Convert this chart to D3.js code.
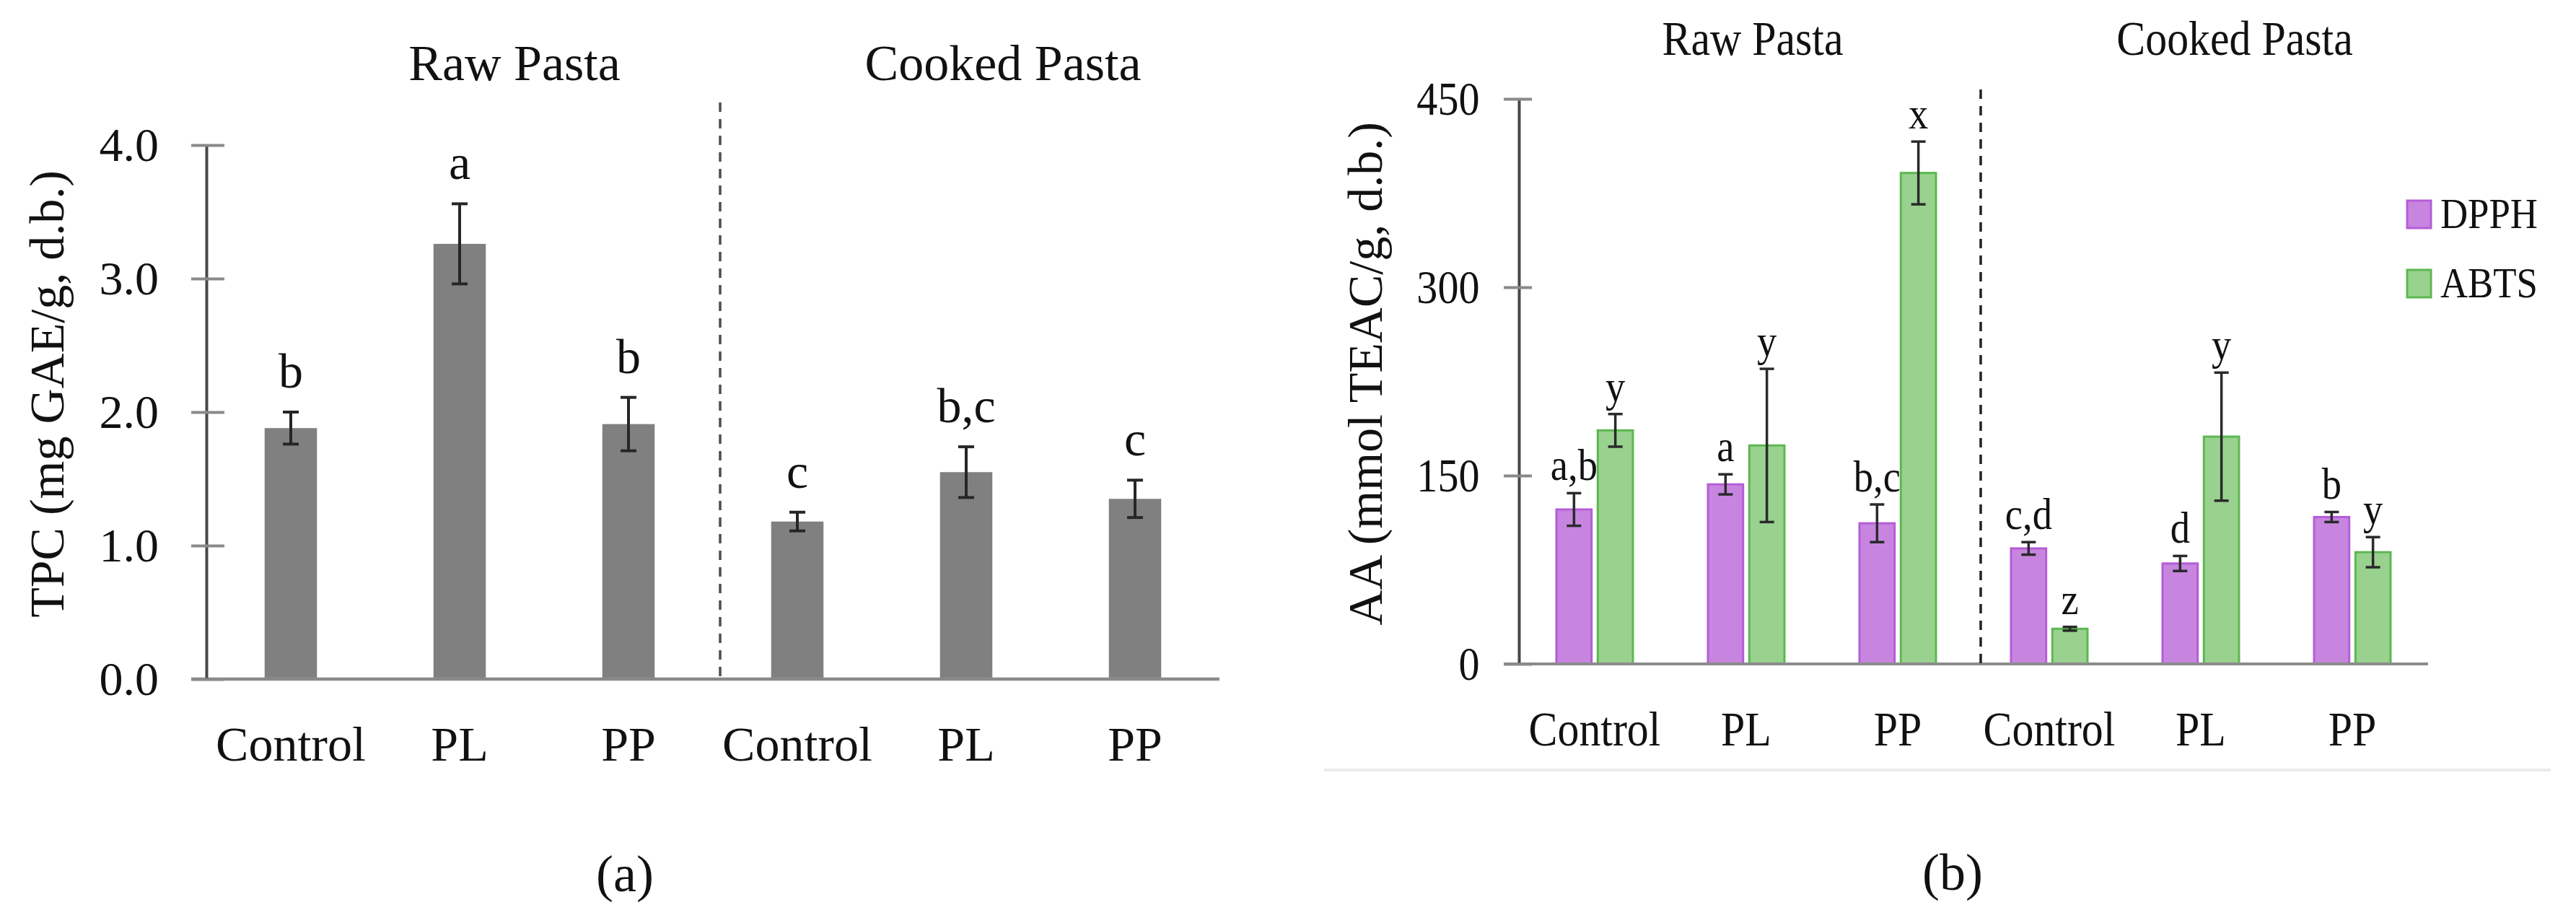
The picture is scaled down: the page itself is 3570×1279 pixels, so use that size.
<!DOCTYPE html>
<html>
<head>
<meta charset="utf-8">
<script src="https://cdn.jsdelivr.net/npm/d3@7"></script>
<style>
  body { margin: 0; background: #fff; }
  svg { display: block; }
</style>
</head>
<body>
<div id="chart"></div>
<script>
// data
var samples = ["Control", "PL", "PP"];
var groupNames = ["Raw Pasta", "Cooked Pasta"];
var keys = ["raw-Control", "raw-PL", "raw-PP", "cooked-Control", "cooked-PL", "cooked-PP"];

var tpcMean = [1.88, 3.26, 1.91, 1.18, 1.55, 1.35];
var tpcSd = [0.12, 0.30, 0.20, 0.07, 0.19, 0.14];
var tpcLetters = ["b", "a", "b", "c", "b,c", "c"];
var tpcTicks = [0, 1, 2, 3, 4];

var series = ["DPPH", "ABTS"];
var dpphMean = [123, 143, 112, 92, 80, 117];
var dpphSd = [13, 8, 15, 5, 6, 4];
var dpphLetters = ["a,b", "a", "b,c", "c,d", "d", "b"];
var abtsMean = [186, 174, 391, 28, 181, 89];
var abtsSd = [13, 61, 25, 1.5, 51, 12];
var abtsLetters = ["y", "y", "x", "z", "y", "y"];
var aaTicks = [0, 150, 300, 450];

var svgWidth = 3570;
var svgHeight = 1279;
var serif = "'Liberation Serif', 'Times New Roman', serif";
var squeeze = 0.88; // text in panel (b) is set narrower

var svg = d3.select("#chart")
  .append("svg")
  .attr("width", svgWidth)
  .attr("height", svgHeight);

var nameOf = function(k) { return k.split("-")[1]; };

// ---------- panel (a) ----------
var left = { x0: 286, x1: 1690, top: 201, base: 941 };

var xL = d3.scaleBand()
  .domain(keys)
  .range([left.x0, left.x1])
  .paddingInner(0.69)
  .paddingOuter(0.345);

var yL = d3.scaleLinear()
  .domain([0, 4])
  .range([left.base, left.top]);

var tpcData = keys.map(function(k, i) {
  return { key: k, mean: tpcMean[i], sd: tpcSd[i], letter: tpcLetters[i] };
});

var panelA = svg.append("g");

panelA.selectAll("rect.tpc")
  .data(tpcData)
  .enter()
  .append("rect")
  .classed("tpc", true)
  .attr("x", d => xL(d.key))
  .attr("width", xL.bandwidth())
  .attr("y", d => yL(d.mean))
  .attr("height", d => yL(0) - yL(d.mean))
  .attr("fill", "#808080");

var errA = panelA.selectAll("g.err")
  .data(tpcData)
  .enter()
  .append("g")
  .classed("err", true)
  .attr("stroke", "#262626")
  .attr("stroke-width", 4);

errA.append("line")
  .attr("x1", d => xL(d.key) + xL.bandwidth() / 2)
  .attr("x2", d => xL(d.key) + xL.bandwidth() / 2)
  .attr("y1", d => yL(d.mean - d.sd))
  .attr("y2", d => yL(d.mean + d.sd));

errA.selectAll("line.cap")
  .data(d => [d.mean - d.sd, d.mean + d.sd].map(v => ({ key: d.key, v: v })))
  .enter()
  .append("line")
  .classed("cap", true)
  .attr("x1", d => xL(d.key) + xL.bandwidth() / 2 - 11)
  .attr("x2", d => xL(d.key) + xL.bandwidth() / 2 + 11)
  .attr("y1", d => yL(d.v))
  .attr("y2", d => yL(d.v));

panelA.selectAll("text.letter")
  .data(tpcData)
  .enter()
  .append("text")
  .classed("letter", true)
  .attr("x", d => xL(d.key) + xL.bandwidth() / 2)
  .attr("y", d => yL(d.mean + d.sd) - 34)
  .attr("text-anchor", "middle")
  .style("font-family", serif)
  .style("font-size", "68px")
  .attr("fill", "#111")
  .text(d => d.letter);

// baseline
panelA.append("line")
  .attr("x1", left.x0 - 21)
  .attr("x2", left.x1)
  .attr("y1", yL(0))
  .attr("y2", yL(0))
  .attr("stroke", "#8a8a8a")
  .attr("stroke-width", 4.5);

var xAxisA = panelA.append("g")
  .attr("transform", `translate(0, ${yL(0)})`)
  .call(d3.axisBottom(xL).tickSize(0).tickPadding(65).tickFormat(nameOf));
xAxisA.select(".domain").remove();
xAxisA.selectAll(".tick text")
  .style("font-family", serif)
  .style("font-size", "68px")
  .attr("fill", "#111");

var yAxisA = panelA.append("g")
  .attr("transform", `translate(${left.x0}, 0)`)
  .call(d3.axisLeft(yL).tickValues(tpcTicks).tickFormat(d3.format(".1f"))
    .tickSize(21).tickSizeOuter(0).tickPadding(45));
yAxisA.select(".domain").attr("stroke", "#474747").attr("stroke-width", 4);
yAxisA.selectAll(".tick line").attr("x1", 25).attr("stroke", "#8a8a8a").attr("stroke-width", 4);
yAxisA.selectAll(".tick text")
  .style("font-family", serif)
  .style("font-size", "66px")
  .attr("fill", "#111");

panelA.append("text")
  .attr("transform", `translate(88, 546) rotate(-90)`)
  .attr("text-anchor", "middle")
  .style("font-family", serif)
  .style("font-size", "68px")
  .attr("fill", "#111")
  .text("TPC (mg GAE/g, d.b.)");

// group separator and titles
panelA.append("line")
  .attr("x1", xL(keys[3]) - xL.step() * xL.paddingInner() / 2 + 10)
  .attr("x2", xL(keys[3]) - xL.step() * xL.paddingInner() / 2 + 10)
  .attr("y1", 142)
  .attr("y2", yL(0))
  .attr("stroke", "#4d4d4d")
  .attr("stroke-width", 3.5)
  .attr("stroke-dasharray", "13,10");

panelA.selectAll("text.group")
  .data(groupNames)
  .enter()
  .append("text")
  .classed("group", true)
  .attr("x", (d, i) => [713, 1390][i])
  .attr("y", 111)
  .attr("text-anchor", "middle")
  .style("font-family", serif)
  .style("font-size", "70px")
  .attr("fill", "#111")
  .text(d => d);

panelA.append("text")
  .attr("x", 866)
  .attr("y", 1235)
  .attr("text-anchor", "middle")
  .style("font-family", serif)
  .style("font-size", "72px")
  .attr("fill", "#111")
  .text("(a)");

// ---------- panel (b) ----------
var right = { x0: 2105, x1: 3365, top: 137, base: 920 };
var colors = { DPPH: "#c785e0", ABTS: "#99d18f" };
var strokes = { DPPH: "#b45dd8", ABTS: "#5cb850" };

var xR = d3.scaleBand()
  .domain(keys)
  .range([right.x0, right.x1]);

var xInner = d3.scaleBand()
  .domain(series)
  .range([52, 158])
  .paddingInner(0.15);

var yR = d3.scaleLinear()
  .domain([0, 450])
  .range([right.base, right.top]);

var aaData = [];
keys.forEach(function(k, i) {
  aaData.push({ key: k, s: "DPPH", mean: dpphMean[i], sd: dpphSd[i], letter: dpphLetters[i] });
  aaData.push({ key: k, s: "ABTS", mean: abtsMean[i], sd: abtsSd[i], letter: abtsLetters[i] });
});

var cx = d => xR(d.key) + xInner(d.s) + xInner.bandwidth() / 2;

var panelB = svg.append("g");

// light rule under panel (b)
panelB.append("line")
  .attr("x1", 1835)
  .attr("x2", 3535)
  .attr("y1", 1067)
  .attr("y2", 1067)
  .attr("stroke", "#ebebeb")
  .attr("stroke-width", 4);

panelB.selectAll("rect.aa")
  .data(aaData)
  .enter()
  .append("rect")
  .classed("aa", true)
  .attr("x", d => xR(d.key) + xInner(d.s))
  .attr("width", xInner.bandwidth())
  .attr("y", d => yR(d.mean))
  .attr("height", d => yR(0) - yR(d.mean))
  .attr("fill", d => colors[d.s])
  .attr("stroke", d => strokes[d.s])
  .attr("stroke-width", 3);

var errB = panelB.selectAll("g.err")
  .data(aaData)
  .enter()
  .append("g")
  .classed("err", true)
  .attr("stroke", "#2a2a2a")
  .attr("stroke-width", 3.5);

errB.append("line")
  .attr("x1", cx)
  .attr("x2", cx)
  .attr("y1", d => yR(d.mean - d.sd))
  .attr("y2", d => yR(d.mean + d.sd));

errB.selectAll("line.cap")
  .data(d => [d.mean - d.sd, d.mean + d.sd].map(v => ({ key: d.key, s: d.s, v: v })))
  .enter()
  .append("line")
  .classed("cap", true)
  .attr("x1", d => cx(d) - 10)
  .attr("x2", d => cx(d) + 10)
  .attr("y1", d => yR(d.v))
  .attr("y2", d => yR(d.v));

panelB.selectAll("text.letter")
  .data(aaData)
  .enter()
  .append("text")
  .classed("letter", true)
  .attr("transform", d => `translate(${cx(d)}, ${yR(d.mean + d.sd) - 18}) scale(${squeeze}, 1)`)
  .attr("text-anchor", "middle")
  .style("font-family", serif)
  .style("font-size", "62px")
  .attr("fill", "#111")
  .text(d => d.letter);

panelB.append("line")
  .attr("x1", right.x0 - 21)
  .attr("x2", right.x1)
  .attr("y1", yR(0))
  .attr("y2", yR(0))
  .attr("stroke", "#8c8c8c")
  .attr("stroke-width", 4);

var xAxisB = panelB.append("g")
  .attr("transform", `translate(0, ${yR(0)})`)
  .call(d3.axisBottom(xR).tickSize(0).tickPadding(65).tickFormat(nameOf));
xAxisB.select(".domain").remove();
xAxisB.selectAll(".tick text")
  .attr("transform", `scale(${squeeze}, 1)`)
  .style("font-family", serif)
  .style("font-size", "68px")
  .attr("fill", "#111");

var yAxisB = panelB.append("g")
  .attr("transform", `translate(${right.x0}, 0)`)
  .call(d3.axisLeft(yR).tickValues(aaTicks)
    .tickSize(21).tickSizeOuter(0).tickPadding(41));
yAxisB.select(".domain").attr("stroke", "#474747").attr("stroke-width", 4);
yAxisB.selectAll(".tick line").attr("x1", 18).attr("stroke", "#8a8a8a").attr("stroke-width", 4);
yAxisB.selectAll(".tick text")
  .attr("transform", `scale(${squeeze}, 1)`)
  .style("font-family", serif)
  .style("font-size", "66px")
  .attr("fill", "#111");

panelB.append("text")
  .attr("transform", `translate(1915, 518) rotate(-90)`)
  .attr("text-anchor", "middle")
  .style("font-family", serif)
  .style("font-size", "68px")
  .attr("fill", "#111")
  .text("AA (mmol TEAC/g, d.b.)");

panelB.append("line")
  .attr("x1", xR(keys[3]) + 10)
  .attr("x2", xR(keys[3]) + 10)
  .attr("y1", 124)
  .attr("y2", yR(0))
  .attr("stroke", "#222")
  .attr("stroke-width", 3.5)
  .attr("stroke-dasharray", "13,10");

panelB.selectAll("text.group")
  .data(groupNames)
  .enter()
  .append("text")
  .classed("group", true)
  .attr("transform", (d, i) => `translate(${[2429, 3097][i]}, 76) scale(${squeeze}, 1)`)
  .attr("text-anchor", "middle")
  .style("font-family", serif)
  .style("font-size", "68px")
  .attr("fill", "#111")
  .text(d => d);

// legend
var legend = panelB.selectAll("g.legend")
  .data(series)
  .enter()
  .append("g")
  .classed("legend", true)
  .attr("transform", (d, i) => `translate(3336, ${278 + i * 96})`);

legend.append("rect")
  .attr("width", 33)
  .attr("height", 38)
  .attr("fill", d => colors[d])
  .attr("stroke", d => strokes[d])
  .attr("stroke-width", 3);

legend.append("text")
  .attr("transform", `translate(46, 38) scale(${squeeze}, 1)`)
  .style("font-family", serif)
  .style("font-size", "60px")
  .attr("fill", "#111")
  .text(d => d);

panelB.append("text")
  .attr("x", 2706)
  .attr("y", 1233)
  .attr("text-anchor", "middle")
  .style("font-family", serif)
  .style("font-size", "72px")
  .attr("fill", "#111")
  .text("(b)");
</script>
</body>
</html>
